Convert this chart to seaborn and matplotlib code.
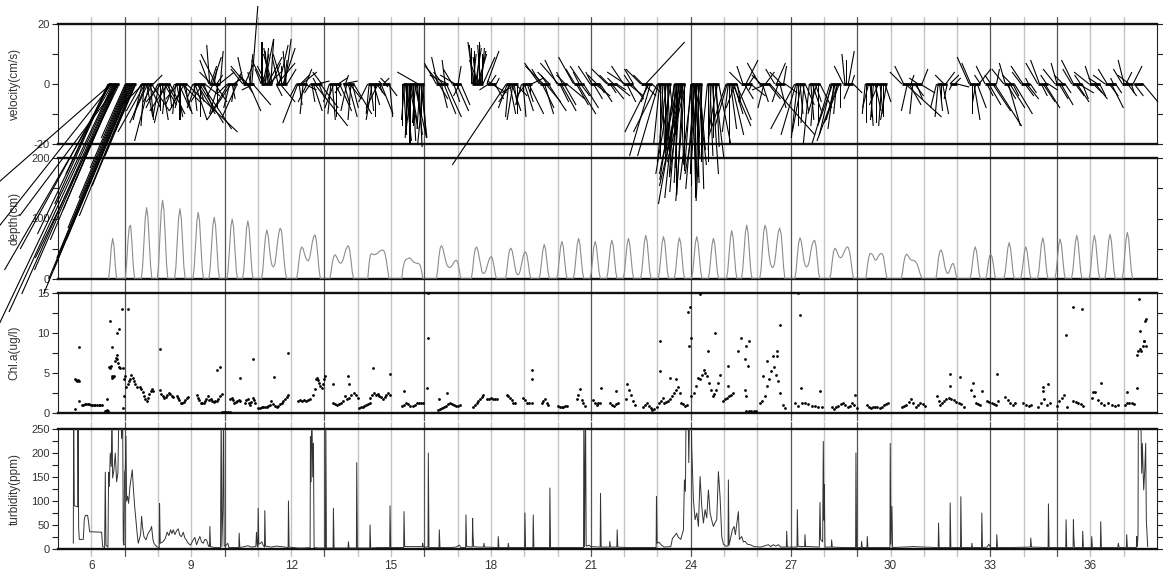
import numpy as np
import pandas as pd
import matplotlib
matplotlib.use("Agg")
import matplotlib.pyplot as plt
import seaborn as sns

# ---------------------------------------------------------------------------
# Current velocity bursts: (start day, end day, east component u, north component v) in cm/s
VEL_BURSTS = [
    (6.50, 6.84, [-14, -18, -24, -30, -40, -38, -36, -38, -35, -31, -27, -22, -18, -14, -33, -28],
                 [-30, -40, -50, -55, -35, -48, -62, -80, -76, -70, -62, -52, -42, -32, -44, -58]),
    (7.02, 7.34, [-8, -12, -16, -20, -24, -27, -29, -26, -22, -18, -14, -10, -7],
                 [-18, -28, -38, -48, -58, -65, -70, -62, -52, -44, -34, -24, -16]),
    (7.50, 7.86, [-5, -3, -7, -1, -9, -4, 2, -6, 4, -5, 1, 6, -3, 3],
                 [-9, -12, -7, -14, -16, -10, -11, -13, -8, -19, -12, -9, -6, 3]),
    (8.00, 8.36, [-4, -2, 0, -5, 2, -3, 4, -1, 3, -6, 1, 5],
                 [-8, -11, -9, -6, -12, -13, -7, -10, -5, -9, -8, -10]),
    (8.50, 8.86, [-3, -1, 2, -4, 4, 0, -2, 6, 3, -5, 1, 17],
                 [-7, -10, -11, -5, -9, -12, -8, -6, -10, -9, -7, -16]),
    (9.05, 9.41, [-2, 1, 4, -3, 6, 2, 8, 0, 10, -4, 3, 5],
                 [-5, -9, -12, -8, -10, -6, -13, -11, -15, -6, -8, -4]),
    (9.53, 9.87, [-3, -1, 2, -4, 3, -2, 1, 4, -5, 2, 0, -3, 5, 1],
                 [8, 13, 6, 4, 9, -4, 5, -6, 10, 3, -8, -10, 4, 11]),
    (10.08, 10.38, [-3, -6, -2, -8, 1, 3, -1, 2, -5],
                   [-3, -10, -8, -12, -5, 2, -6, 4, -11]),
    (10.55, 10.88, [-4, -2, 3, -5, 2, -3, 4, 1, -1, 2, 6, -4],
                   [5, 9, 7, 6, -3, 3, -9, 10, 4, 26, -7, -2]),
    (11.10, 11.44, [-2, 0, 2, -4, 3, 1, -3, 5, -1, 4, -2, 1, 3, -3],
                   [5, 14, 10, 8, 15, 12, 6, 9, 11, 4, 12, 15, 7, 10]),
    (11.55, 11.88, [2, 6, -2, 3, 5, 0, -3, 4, 1, 2, -1, 3],
                   [-4, 7, 9, 13, -6, 6, 10, 12, 8, 15, 11, 5]),
    (12.16, 12.48, [-2, -5, 1, 3, 5, -1, 4, 2, -3],
                   [-4, -13, -7, 3, 4, -10, -2, 5, -6]),
    (12.58, 12.92, [-2, 1, 3, 11, -1, 4, 2, 6, -3],
                   [-3, -6, -9, -14, 2, 1, -5, -8, 4]),
    (13.15, 13.50, [-2, -1, 1, -3, 2, 0, 3, 4, -2],
                   [-6, -10, -12, -8, -4, -11, 2, -9, -3]),
    (13.55, 13.88, [5, 2, 1, -2, 3, 4, -1, 2, 6],
                   [1, -7, 3, -9, -11, -5, -12, -8, -10]),
    (14.30, 14.70, [-3, -1, 1, -2, 2, 0, 3, -4, 1, 4],
                   [-6, -10, -9, -12, -7, -11, -4, -8, -3, -10]),
    (14.72, 14.96, [-1, 2, 1, -2, 3, 1],
                   [1, 2, -1, 2, -4, -11]),
    (15.35, 15.98, [0, 1, -1, 2, 0, 1, -1, 3, 0, 2, -2, 1, 0, 4, -1, 2, 1, -7, 1, -1, 2, 0, 1, -2],
                   [-14, -17, -12, -19, -16, -13, -18, -15, -20, -12, -16, -19, -14, -18, -13, -17, -10, 4,
                    -21, -15, -18, -11, -16, -20]),
    (16.36, 16.70, [-4, -2, 3, -5, 2, -3, 4, -1, 5, -6],
                   [7, 9, -5, 6, -8, 4, -10, 8, -11, 3]),
    (16.84, 17.10, [-3, 2, -5, 4, 1, -2, 3],
                   [5, -6, 3, -9, 6, -4, -7]),
    (17.42, 17.76, [0, -1, 1, -2, 0, 2, -1, 1, 3, -3, 0, 2, -1, 1, 0, 4],
                   [12, 13, 10, 14, 11, 12, 9, 13, 10, 8, 14, 11, 13, 12, 10, 9]),
    (17.88, 18.16, [4, -3, 2, 5, -2, 3, 1],
                   [11, -2, 3, -3, 1, -5, 2]),
    (18.46, 18.80, [-18, -3, -1, 2, -4, 3, -2, 1, 4, -5, 0],
                   [-27, -8, -11, -10, -6, -9, -12, -7, -4, -3, -10]),
    (18.92, 19.22, [-2, 1, 3, -3, 2, 5, 0, 4],
                   [-7, -11, -9, -4, -6, -10, -3, 2]),
    (19.46, 19.76, [-5, -3, 4, -6, 3, 5, -2, 6, -4],
                   [7, 5, -8, 6, -10, -6, 3, -9, 4]),
    (19.98, 20.28, [-4, -6, 3, 5, -2, 4, -3, 6],
                   [8, 7, -6, -9, 4, -7, 3, -5]),
    (20.48, 20.78, [-5, -3, 4, 6, -2, 3, -4, 5],
                   [9, 5, -7, -10, 4, -4, 6, -8]),
    (20.98, 21.28, [-4, -2, 3, 5, -3, 2, 4],
                   [6, 4, -5, -4, 3, -3, -6]),
    (21.48, 21.78, [-5, -3, 2, 4, -2, 5, 3],
                   [5, 3, -3, -5, 2, -4, -2]),
    (21.98, 22.28, [-4, -6, 3, 5, -2, 4, -3],
                   [6, 4, -6, -4, 3, -5, 5]),
    (22.50, 22.84, [-5, -3, 4, 13, -2, -8, -7, 3],
                   [5, 3, -4, 14, -6, -16, -24, -3]),
    (23.00, 23.40, [-8, -7, -2, 0, 1, -1, 2, 0, -3, 1, -1, 2, -5],
                   [-16, -24, -20, -25, -22, -18, -24, -21, -26, -19, -23, -17, -30]),
    (23.50, 23.84, [-3, -5, -2, 0, -4, -6, -1, -3, -7, -2, 1, -4, -5, -2, -8, 0, -3, -6],
                   [-25, -32, -30, -35, -38, -30, -28, -36, -40, -33, -27, -31, -22, -37, -34, -29, -39, -26]),
    (24.00, 24.34, [-2, 0, -4, 1, -1, 2, -3, 0, 1, -2, 3, 0, -1, 2, -5, 1, 0, -2],
                   [-28, -34, -32, -36, -30, -25, -35, -38, -33, -29, -27, -31, -37, -22, -30, -35, -26, -39]),
    (24.50, 24.84, [-2, 0, 1, -1, 2, 0, 3, 1, -3, 4],
                   [-20, -26, -24, -22, -30, -18, -25, -21, -16, -20]),
    (25.06, 25.40, [-6, -4, -2, 0, 2, 4, 6, 3, -3, 5, 1],
                   [-18, -14, -16, -20, -15, -17, -14, -10, -8, -12, -6]),
    (25.52, 25.84, [-4, -2, 3, 4, -3, 2, 5, -1],
                   [4, 6, -5, 8, -6, 3, -4, -2]),
    (26.06, 26.38, [-4, -3, 2, -2, 3, -5, 4, 15],
                   [7, 3, -6, -8, 4, -2, -5, -17]),
    (26.52, 26.84, [-3, 3, -2, 2, -4, 1, 4],
                   [5, 7, -6, -8, 4, 6, -3]),
    (27.12, 27.44, [-8, -5, -2, 0, 1, -3, 2, -1, 3],
                   [-15, -17, -18, -14, -10, -16, -9, -13, -7]),
    (27.56, 27.88, [-2, 1, 3, -1, 2, -3, 0, 4],
                   [-20, -12, -9, -14, -6, -10, -13, -8]),
    (28.18, 28.50, [-6, -4, -5, -2, -3, -1, -7, -5, 0],
                   [-20, -17, -14, -15, -12, -10, -19, -13, -8]),
    (28.58, 28.88, [-3, -1, 0, 2, -2, 1, 3],
                   [6, 10, 8, 11, -5, 3, -3]),
    (29.24, 29.88, [-1, 0, -2, 1, 0, -1, 2, 0, -3, 1, -1, 0, 2, -2],
                   [-10, -13, -8, -14, -11, -12, -9, -13, -7, -10, -14, -11, -6, -12]),
    (30.34, 30.94, [-4, -3, 12, -2, 4, 1, -1, 3, 2, -3, 5, 2],
                   [4, 6, -11, -9, -7, 3, -10, -4, -5, 2, -3, 5]),
    (31.38, 31.70, [-2, -1, 1, 0, 2, -3, 3, -1],
                   [-8, -11, -9, -6, -10, 3, 4, -5]),
    (31.78, 32.00, [3, -1, 2, 4],
                   [3, -2, 2, -1]),
    (32.36, 32.70, [-4, -3, 0, 2, -1, 3, 4, -2],
                   [9, 7, -10, -12, -6, -8, 5, 3]),
    (32.84, 33.18, [-3, 2, 4, -2, 6, 9, 1],
                   [6, -4, -7, 3, -9, -14, 5]),
    (33.40, 33.72, [-4, -2, 3, 4, 5, -3, 2, 6],
                   [5, 7, -5, -14, -8, 3, -4, -10]),
    (33.92, 34.20, [-3, -4, 3, 4, -1, 2],
                   [4, 6, -4, -5, 2, -3]),
    (34.42, 34.74, [-4, -3, 2, 4, 5, -2, 3],
                   [7, 8, -4, -6, -8, 3, -2]),
    (34.94, 35.24, [-4, -2, 3, 4, -3, 2],
                   [5, 7, -5, -7, 3, -3]),
    (35.44, 35.76, [-3, -4, 3, 4, 5, -2, 2],
                   [5, 8, -4, -6, -3, 3, -5]),
    (35.96, 36.28, [-5, -2, 3, 4, -3, 2],
                   [4, 6, -3, -5, 2, -4]),
    (36.44, 36.76, [-4, -3, 3, 4, -1, 2],
                   [3, 5, -4, -8, 2, -3]),
    (36.96, 37.28, [-3, -2, 2, 3, -4, 1, 3],
                   [5, 8, 4, -4, 3, -3, 6]),
    (37.32, 37.58, [3, 5],
                   [-4, -6]),
]

# Water depth over each submergence: (start day, depth in cm every 0.04 day)
DEPTH_STEP = 0.04
DEPTH_TIDES = [
    (6.52, [0, 22, 52, 67, 55, 22, 0]),
    (7.02, [0, 25, 62, 86, 89, 60, 22, 0]),
    (7.50, [0, 20, 60, 100, 118, 102, 62, 22, 0]),
    (7.98, [0, 22, 70, 112, 130, 114, 72, 25, 0]),
    (8.50, [0, 20, 62, 100, 116, 101, 63, 20, 0]),
    (9.05, [0, 18, 58, 95, 110, 96, 58, 18, 0]),
    (9.53, [0, 18, 55, 88, 102, 89, 55, 17, 0]),
    (10.07, [0, 16, 52, 86, 99, 87, 52, 16, 0]),
    (10.54, [0, 15, 50, 83, 96, 84, 50, 15, 0]),
    (11.11, [0, 14, 45, 70, 81, 72, 50, 32, 22, 20, 24, 40, 60, 76, 84, 80, 58, 30, 10, 0]),
    (12.16, [0, 12, 32, 48, 53, 50, 42, 35, 31, 30, 36, 48, 62, 70, 73, 62, 40, 15, 0]),
    (13.16, [0, 12, 28, 37, 40, 37, 32, 28, 26, 27, 32, 40, 48, 53, 55, 48, 30, 10, 0]),
    (14.30, [0, 25, 40, 42, 41, 40, 41, 42, 44, 46, 47, 48, 47, 42, 30, 15, 0]),
    (15.32, [0, 18, 28, 32, 33, 34, 35, 33, 30, 28, 27, 26, 26, 25, 22, 12, 0]),
    (16.36, [0, 15, 38, 52, 55, 50, 40, 30, 23, 20, 19, 20, 23, 27, 30, 31, 28, 18, 5, 0]),
    (17.41, [0, 15, 38, 50, 53, 47, 35, 22, 12, 9, 10, 14, 22, 30, 35, 37, 33, 22, 8, 0]),
    (18.44, [0, 15, 36, 48, 51, 46, 34, 20, 10, 7, 8, 14, 25, 36, 43, 45, 40, 26, 10, 0]),
    (19.44, [0, 9, 29, 48, 57, 49, 30, 10, 0]),
    (19.97, [0, 10, 32, 53, 62, 54, 33, 11, 0]),
    (20.47, [0, 11, 34, 57, 67, 58, 35, 12, 0]),
    (20.97, [0, 10, 31, 53, 62, 53, 32, 10, 0]),
    (21.47, [0, 11, 33, 55, 64, 56, 33, 11, 0]),
    (21.97, [0, 12, 35, 58, 67, 57, 34, 11, 0]),
    (22.49, [0, 12, 37, 62, 72, 62, 37, 12, 0]),
    (23.02, [0, 12, 36, 60, 70, 61, 36, 12, 0]),
    (23.50, [0, 11, 35, 58, 68, 59, 35, 11, 0]),
    (24.02, [0, 12, 36, 60, 70, 60, 36, 12, 0]),
    (24.52, [0, 11, 34, 57, 67, 58, 34, 11, 0]),
    (25.07, [0, 13, 41, 68, 80, 69, 41, 13, 0]),
    (25.52, [0, 15, 46, 76, 89, 77, 46, 15, 0]),
    (26.07, [0, 15, 48, 78, 89, 82, 62, 40, 26, 20, 19, 24, 40, 62, 78, 84, 76, 50, 18, 0]),
    (27.12, [0, 12, 38, 60, 68, 62, 46, 30, 22, 20, 22, 30, 44, 56, 62, 64, 55, 32, 10, 0]),
    (28.17, [0, 10, 30, 46, 51, 48, 42, 37, 35, 36, 40, 45, 50, 53, 52, 45, 30, 12, 0]),
    (29.26, [0, 20, 35, 42, 42, 40, 35, 31, 32, 36, 40, 42, 42, 38, 25, 10, 0]),
    (30.32, [0, 12, 28, 38, 41, 39, 35, 32, 31, 31, 30, 28, 24, 18, 10, 4, 0]),
    (31.36, [0, 15, 35, 46, 48, 42, 30, 18, 11, 9, 12, 18, 24, 26, 20, 8, 0]),
    (32.38, [0, 9, 27, 45, 53, 46, 28, 9, 0]),
    (32.85, [0, 8, 25, 38, 41, 36, 22, 6, 0]),
    (33.40, [0, 10, 31, 51, 60, 52, 31, 10, 0]),
    (33.90, [0, 9, 27, 45, 53, 46, 27, 9, 0]),
    (34.41, [0, 12, 35, 58, 68, 58, 35, 11, 0]),
    (34.93, [0, 11, 34, 56, 66, 57, 34, 11, 0]),
    (35.43, [0, 12, 37, 61, 72, 62, 37, 12, 0]),
    (35.96, [0, 12, 37, 61, 72, 61, 36, 12, 0]),
    (36.43, [0, 13, 38, 63, 74, 63, 38, 12, 0]),
    (36.95, [0, 13, 39, 65, 77, 66, 40, 13, 0]),
]

# Chlorophyll-a while submerged: (start day, end day, readings in ug/l)
CHL_RUNS = [
    (5.51, 5.62, [4.2, 4.1, 4.0, 4.1, 4.0]),
    (5.71, 6.31, [1.0, 1.05, 1.1, 1.15, 1.1, 1.1, 1.05, 1.0, 1.0, 1.0, 1.0, 1.0, 0.95, 1.0]),
    (6.40, 6.50, [0.2, 0.3, 0.4, 0.3]),
    (6.54, 6.68, [5.8, 5.6, 5.9, 4.6, 4.4, 4.5, 4.6]),
    (6.71, 6.86, [6.5, 6.9, 7.3, 6.8, 6.3, 5.8, 5.6]),
    (7.01, 7.36, [4.6, 3.3, 3.6, 4.0, 4.2, 4.8, 4.4, 4.0, 3.6, 3.3]),
    (7.46, 7.86, [3.3, 3.0, 2.6, 2.1, 1.7, 1.5, 1.9, 2.4, 2.8, 3.0, 2.7]),
    (8.06, 8.46, [2.9, 2.4, 2.1, 1.9, 2.0, 2.3, 2.5, 2.4, 2.1, 2.0]),
    (8.56, 8.91, [2.1, 1.9, 1.6, 1.3, 1.2, 1.4, 1.6, 1.9, 2.0]),
    (9.16, 9.54, [2.3, 1.9, 1.6, 1.3, 1.2, 1.3, 1.5, 1.8, 2.1, 1.6]),
    (9.58, 9.91, [1.7, 1.5, 1.4, 1.5, 1.5, 1.8, 2.1, 2.4]),
    (9.93, 10.15, [0.1, 0.1, 0.15, 0.1, 0.1]),
    (10.17, 10.47, [1.7, 1.9, 1.6, 1.3, 1.4, 1.5, 1.6, 1.5]),
    (10.62, 10.92, [1.3, 1.6, 1.7, 1.2, 1.0, 1.4, 1.9, 1.6, 1.3]),
    (11.02, 11.37, [0.6, 0.6, 0.7, 0.7, 0.8, 0.8, 0.9, 1.0]),
    (11.41, 11.92, [1.5, 1.1, 0.9, 0.8, 0.9, 1.1, 1.3, 1.5, 1.7, 2.0, 2.3]),
    (12.22, 12.57, [1.5, 1.6, 1.5, 1.6, 1.5, 1.6, 1.7]),
    (12.67, 13.02, [2.3, 3.0, 4.2, 4.4, 4.1, 3.8, 3.4, 3.1, 3.6, 4.2, 4.6]),
    (13.27, 13.57, [1.3, 1.1, 1.0, 1.1, 1.3, 1.5]),
    (13.62, 14.00, [2.1, 1.7, 1.9, 2.3, 2.5, 2.2, 1.9]),
    (14.04, 14.36, [0.6, 0.7, 0.8, 0.9, 1.0, 1.1, 1.2]),
    (14.38, 14.97, [1.9, 2.2, 2.5, 2.3, 2.4, 2.1, 2.0, 1.7, 2.0, 2.3, 2.5, 2.2]),
    (15.32, 15.97, [0.9, 1.0, 1.2, 1.1, 0.9, 0.9, 1.0, 1.2, 1.3, 1.2, 1.3]),
    (16.42, 17.07, [0.4, 0.5, 0.6, 0.8, 0.9, 1.1, 1.3, 1.1, 1.0, 0.9, 0.9, 1.0]),
    (17.47, 17.77, [0.8, 1.0, 1.2, 1.5, 1.7, 2.0, 2.3]),
    (17.87, 18.17, [1.7, 1.8, 1.9, 1.8, 1.7, 1.7]),
    (18.47, 18.72, [2.3, 2.1, 1.9, 1.6, 1.3, 1.2]),
    (18.97, 19.22, [1.9, 1.6, 1.3, 1.3, 1.3]),
    (19.52, 19.72, [1.3, 1.5, 1.7, 1.3, 1.0]),
    (20.02, 20.27, [0.9, 0.8, 0.8, 0.8, 0.9, 0.9]),
    (20.57, 20.82, [1.7, 2.3, 3.0, 1.6, 1.3, 0.9]),
    (21.07, 21.27, [1.6, 1.3, 1.0, 1.2, 1.3]),
    (21.57, 21.82, [1.2, 1.0, 0.9, 1.1, 1.3]),
    (22.07, 22.32, [1.7, 2.9, 2.3, 1.5, 1.0]),
    (22.57, 22.82, [0.8, 1.0, 1.2, 0.9, 0.6]),
    (22.84, 23.17, [0.4, 0.5, 0.8, 1.2, 1.5, 1.9]),
    (23.19, 23.67, [1.3, 1.4, 1.5, 1.8, 2.1, 2.5, 2.9, 3.3, 2.5]),
    (23.72, 23.90, [1.3, 1.1, 0.9, 1.0]),
    (24.02, 24.10, [2.1, 2.5]),
    (24.17, 24.87, [3.4, 4.4, 4.2, 4.8, 5.4, 5.0, 4.6, 3.8, 2.9, 2.1, 2.4, 2.9, 3.8, 4.8]),
    (24.97, 25.27, [1.5, 1.7, 1.9, 2.1, 2.3, 2.5]),
    (25.67, 25.97, [0.2, 0.2, 0.2, 0.2, 0.2]),
    (26.08, 26.83, [1.3, 1.5, 2.1, 3.4, 4.2, 5.2, 5.7, 4.8, 4.0, 2.5, 1.0, 0.6]),
    (27.13, 27.93, [1.3, 0.9, 1.2, 1.3, 1.1, 0.9, 0.9, 0.8, 0.8]),
    (28.23, 28.98, [0.8, 0.5, 0.7, 0.9, 1.1, 1.2, 1.0, 0.8, 0.9, 1.2, 1.0, 0.6]),
    (29.28, 29.93, [1.0, 0.8, 0.6, 0.7, 0.8, 0.7, 0.6, 0.8, 1.0, 1.1, 1.3]),
    (30.33, 31.03, [0.8, 0.9, 1.0, 1.4, 1.7, 1.2, 0.8, 1.0, 1.2, 1.1, 0.9]),
    (31.39, 31.55, [2.1, 1.5, 1.0, 1.3]),
    (31.60, 32.20, [1.5, 1.7, 1.9, 1.8, 1.6, 1.4, 1.3, 1.1, 0.8]),
    (32.40, 32.76, [2.9, 3.7, 2.1, 1.3, 1.1, 1.0, 2.7]),
    (32.90, 33.24, [1.5, 1.4, 1.3, 1.1, 1.0, 1.5]),
    (33.44, 33.74, [2.0, 1.6, 1.3, 1.0, 1.3]),
    (33.98, 34.23, [1.2, 1.0, 0.9, 1.0]),
    (34.44, 34.79, [0.8, 1.2, 1.7, 1.0, 1.2]),
    (34.99, 35.29, [0.9, 1.5, 1.9, 2.2, 0.8]),
    (35.49, 35.79, [1.5, 1.4, 1.3, 1.1, 0.9]),
    (36.04, 36.40, [1.9, 2.6, 1.6, 1.2, 1.0]),
    (36.54, 36.83, [1.2, 1.0, 0.9, 1.0]),
    (37.04, 37.30, [1.0, 1.2, 1.3, 1.2, 1.1]),
    (37.40, 37.62, [7.3, 7.7, 8.0, 7.8, 8.4, 9.0]),
]

# Isolated chlorophyll-a readings (day, ug/l)
CHL_SPOT_DAY = [5.64, 5.51, 5.63, 6.46, 6.56, 6.63, 6.78, 6.84, 6.91, 7.11, 6.94, 6.98, 6.96, 6.98,
                8.06, 9.78, 9.86, 10.47, 10.87, 11.49, 11.92, 13.27, 13.72, 13.74, 14.47, 14.97,
                15.39, 16.12, 16.12, 16.07, 16.45, 16.67, 19.23, 19.23, 21.29, 21.77, 22.09,
                23.07, 23.09, 23.37, 23.57, 23.92, 23.97, 23.95, 24.02, 24.27, 24.52, 24.72,
                25.12, 25.12, 25.42, 25.52, 25.62, 25.67, 25.75, 25.72, 25.62, 25.67,
                26.18, 26.30, 26.48, 26.58, 26.68, 26.60, 27.23, 27.28, 27.30, 27.88, 28.93,
                31.79, 31.79, 32.09, 33.19, 34.59, 34.59, 34.74, 35.27, 35.49, 35.74, 36.09,
                36.31, 37.09, 37.39, 37.47, 37.49, 37.64, 37.66, 37.67, 37.61]
CHL_SPOT_VAL = [8.3, 0.5, 1.5, 1.8, 11.5, 8.2, 10.0, 10.5, 13.0, 13.0, 5.6, 2.1, 0.6, 4.2,
                8.0, 5.4, 5.8, 4.4, 6.7, 4.5, 7.5, 3.6, 4.6, 3.6, 5.6, 4.9,
                2.7, 15.0, 9.4, 3.1, 1.7, 2.5, 5.4, 4.2, 3.1, 2.8, 3.6,
                5.2, 9.0, 4.4, 4.2, 12.6, 13.2, 8.4, 9.4, 14.9, 7.7, 10.0,
                5.9, 3.4, 7.7, 9.4, 6.7, 8.4, 9.0, 5.9, 2.9, 2.1,
                4.6, 6.5, 7.1, 7.7, 11.0, 7.1, 15.0, 12.2, 3.1, 2.8, 2.3,
                4.9, 3.4, 4.5, 4.9, 3.3, 2.7, 3.6, 9.8, 13.2, 13.0, 2.6,
                3.8, 2.6, 3.1, 14.2, 10.3, 11.5, 11.7, 8.4, 9.0]

# Turbidity record (day, ppm); readings above 250 run off the scale
TURB_DAY = [5.46, 5.47, 5.49, 5.59, 5.60, 5.62, 5.64, 5.76, 5.79, 5.82, 5.89, 5.92, 5.95, 6.31, 6.34, 6.40, 6.42, 6.44, 6.50,
            6.52, 6.54, 6.57, 6.60, 6.62, 6.64, 6.68, 6.72, 6.76, 6.80, 6.83, 6.88, 6.91, 6.94, 6.96, 6.98,
            7.00, 7.02, 7.04, 7.06, 7.09, 7.12, 7.16, 7.20, 7.23, 7.26, 7.30, 7.34, 7.38, 7.41,
            7.48, 7.51, 7.54, 7.58, 7.64, 7.71, 7.78, 7.81, 7.85, 7.88, 7.96, 8.04, 8.05, 8.07, 8.15, 8.22, 8.28,
            8.33, 8.38, 8.42, 8.46, 8.51, 8.56, 8.61, 8.66, 8.71, 8.76, 8.81, 8.86, 8.91, 8.98, 9.06, 9.11, 9.16,
            9.21, 9.26, 9.31, 9.36, 9.41, 9.46, 9.52, 9.55, 9.56, 9.58, 9.70, 9.88,
            9.90, 9.92, 9.95, 9.97, 9.99, 10.05, 10.10, 10.13, 10.30, 10.43, 10.44, 10.46, 10.60, 10.70, 10.80,
            10.94, 10.96, 10.98, 11.00, 11.01, 11.03, 11.08, 11.12, 11.16, 11.20, 11.21, 11.23, 11.40, 11.55,
            11.70, 11.91, 11.92, 11.94,
            12.20, 12.40, 12.57, 12.58, 12.60, 12.62, 12.65, 12.67, 12.69, 12.80, 13.03, 13.04, 13.06, 13.26,
            13.27, 13.29, 13.50, 13.71, 13.72, 13.74, 13.96, 13.97, 13.99, 14.20, 14.36, 14.37, 14.39, 14.60,
            14.96, 14.97, 14.99,
            15.20, 15.38, 15.39, 15.41, 15.60, 15.80, 15.94, 15.95, 15.97, 16.11, 16.12, 16.14, 16.44, 16.45,
            16.47, 16.80, 16.95, 17.05, 17.10, 17.24, 17.25, 17.27, 17.44, 17.45, 17.46, 17.48, 17.60, 17.78,
            17.79, 17.81, 18.21, 18.22, 18.24, 18.51, 18.52, 18.54, 19.01, 19.02, 19.04, 19.26, 19.27, 19.29,
            19.76, 19.77, 19.79, 20.40,
            20.78, 20.79, 20.81, 20.84, 20.86, 20.95, 21.00, 21.28, 21.29, 21.31, 21.56, 21.57, 21.59, 21.78,
            21.79, 21.81, 22.10, 22.50, 22.96, 22.97, 22.99, 23.05, 23.12, 23.20, 23.40, 23.45, 23.52, 23.57,
            23.62, 23.70, 23.78, 23.81, 23.84, 23.86, 23.92, 23.94, 23.97, 24.01, 24.03,
            24.08, 24.13, 24.18, 24.23, 24.28, 24.33, 24.38, 24.43, 24.48, 24.53, 24.58, 24.63, 24.68, 24.73,
            24.78, 24.83, 24.88, 24.93, 24.98, 25.05, 25.12, 25.13, 25.15, 25.25, 25.30, 25.34, 25.43, 25.46,
            25.53, 25.58, 25.63, 25.70, 25.78, 25.90, 26.10, 26.33, 26.40, 26.48, 26.55, 26.63, 26.70, 26.87,
            26.88, 26.90,
            27.19, 27.20, 27.22, 27.30, 27.42, 27.43, 27.45, 27.55, 27.86, 27.88, 27.90, 27.96, 27.98, 28.00,
            28.01, 28.03, 28.22, 28.23, 28.25, 28.60, 28.95, 28.96, 28.98, 29.12, 29.13, 29.15, 29.29, 29.30,
            29.32, 29.70, 29.98, 29.99, 30.01, 30.04, 30.06, 30.40, 30.70, 31.00,
            31.43, 31.44, 31.46, 31.78, 31.79, 31.81, 32.10, 32.11, 32.13, 32.43, 32.44, 32.46, 32.73, 32.74,
            32.76, 32.90, 32.95, 33.00, 33.18, 33.19, 33.21, 33.60, 34.10, 34.20, 34.21, 34.23, 34.73, 34.74,
            34.76, 35.26, 35.27, 35.29, 35.48, 35.49, 35.50, 35.52, 35.76, 35.77, 35.79, 36.03, 36.04, 36.06,
            36.30, 36.31, 36.33, 36.60, 36.82, 36.84, 36.86, 37.08, 37.09, 37.11, 37.38, 37.39, 37.41,
            37.43, 37.44, 37.50, 37.52, 37.54, 37.56, 37.60, 37.63, 37.66, 37.68, 37.70, 37.72]
TURB_VAL = [12, 300, 90, 88, 300, 44, 20, 20, 62, 70, 70, 55, 36, 35, 5, 3, 160, 8, 4,
            160, 130, 200, 172, 300, 148, 165, 200, 140, 160, 300, 300, 230, 300, 15, 8,
            160, 165, 235, 100, 110, 95, 130, 150, 165, 130, 90, 60, 30, 12,
            30, 68, 45, 26, 19, 33, 40, 47, 20, 12, 5, 3, 95, 12, 15, 22, 35,
            28, 40, 32, 40, 30, 38, 42, 28, 26, 35, 23, 18, 12, 8, 19, 24, 9,
            18, 26, 15, 12, 20, 19, 6, 5, 47, 5, 3, 3,
            300, 5, 85, 300, 6, 8, 12, 3, 3, 3, 33, 3, 5, 7, 4,
            5, 35, 8, 4, 85, 10, 12, 15, 8, 4, 80, 6, 4, 6,
            5, 3, 100, 4,
            2, 2, 3, 234, 140, 300, 150, 220, 3, 2, 2, 300, 2, 2,
            85, 2, 2, 2, 15, 2, 2, 180, 2, 2, 2, 50, 2, 3,
            3, 90, 3,
            3, 3, 78, 5, 5, 5, 5, 12, 4, 4, 200, 3, 3, 40,
            3, 3, 4, 8, 3, 3, 71, 5, 4, 64, 33, 5, 4, 4,
            12, 4, 3, 26, 3, 3, 12, 3, 3, 75, 3, 3, 71, 3,
            3, 127, 3, 3,
            3, 300, 5, 300, 6, 8, 5, 4, 116, 4, 4, 16, 4, 4,
            40, 4, 3, 3, 3, 109, 12, 14, 8, 4, 5, 22, 28, 33,
            25, 20, 40, 144, 120, 300, 300, 180, 300, 300, 210,
            102, 61, 75, 47, 151, 89, 54, 82, 65, 123, 75, 60, 47, 55,
            61, 161, 109, 26, 10, 6, 6, 144, 8, 40, 47, 30, 78, 20,
            26, 15, 16, 10, 9, 5, 4, 9, 5, 9, 6, 9, 4, 4,
            37, 4,
            4, 82, 6, 5, 5, 30, 5, 5, 4, 97, 20, 15, 224, 60,
            134, 4, 4, 19, 4, 3, 3, 200, 3, 3, 16, 3, 3, 26,
            3, 3, 3, 220, 10, 89, 3, 4, 5, 4,
            3, 54, 3, 3, 96, 3, 3, 109, 3, 3, 12, 3, 3, 75,
            3, 4, 10, 3, 3, 30, 3, 3, 4, 4, 23, 4, 3, 94,
            3, 3, 61, 3, 3, 61, 30, 3, 3, 37, 3, 3, 26, 3,
            3, 57, 3, 3, 3, 12, 3, 3, 30, 3, 3, 26, 5,
            30, 300, 300, 250, 158, 220, 123, 160, 220, 60, 33, 5]

PANEL_LABELS = ["velocity(cm/s)", "depth(cm)", "Chl.a(ug/l)", "turbidity(ppm)"]
DAY_TICKS = [6, 9, 12, 15, 18, 21, 24, 27, 30, 33, 36]
STRONG_GRID_DAYS = [7, 10, 13, 16, 21, 24, 27, 29, 33, 35]

# ---------------------------------------------------------------------------
vel = pd.DataFrame(
    [(t, u, v) for t0, t1, us, vs in VEL_BURSTS
     for t, u, v in zip(np.linspace(t0, t1, len(us)), us, vs)],
    columns=["day", "u", "v"])

depth = pd.DataFrame(
    [(t0 + i * DEPTH_STEP, d) for t0, vals in DEPTH_TIDES for i, d in enumerate(vals)],
    columns=["day", "depth"])

chl = pd.DataFrame(
    [(t, c) for t0, t1, vals in CHL_RUNS for t, c in zip(np.linspace(t0, t1, len(vals)), vals)]
    + list(zip(CHL_SPOT_DAY, CHL_SPOT_VAL)),
    columns=["day", "chl"])

turb = pd.DataFrame({"day": TURB_DAY, "turbidity": TURB_VAL})

# ---------------------------------------------------------------------------
sns.set_theme(style="ticks")
plt.rcParams["font.family"] = ["Liberation Sans", "DejaVu Sans"]
plt.rcParams["axes.unicode_minus"] = False

W_PX, H_PX = 1163, 575
fig = plt.figure(figsize=(W_PX / 100, H_PX / 100), dpi=100)
fig.patch.set_facecolor("white")


def panel(top, bottom):
    return fig.add_axes([58 / W_PX, 1 - bottom / H_PX, 1099 / W_PX, (bottom - top) / H_PX])


ax_v = panel(24, 144)
ax_d = panel(158, 279)
ax_c = panel(293, 413)
ax_t = panel(429, 549)
axes = [ax_v, ax_d, ax_c, ax_t]

# velocity sticks drawn from the zero line, isotropic in screen space
q = ax_v.quiver(vel["day"], np.zeros(len(vel)), vel["u"], vel["v"],
                angles="uv", scale_units="y", scale=1, units="dots", width=1.1,
                headwidth=0, headlength=0, headaxislength=0, pivot="tail",
                color="black", zorder=4)
q.set_clip_on(False)
for t0, t1, us, vs in VEL_BURSTS:
    ax_v.hlines(0, t0, t1, color="black", lw=2.0, zorder=4)

sns.lineplot(data=depth, x="day", y="depth", ax=ax_d, color="#8c8c8c", lw=0.8,
             estimator=None, sort=False, zorder=3)
sns.scatterplot(data=chl, x="day", y="chl", ax=ax_c, color="black", s=4,
                linewidth=0, zorder=3)
sns.lineplot(data=turb, x="day", y="turbidity", ax=ax_t, color="#333333", lw=0.7,
             estimator=None, sort=False, zorder=3)

limits = [(-20, 20), (0, 200), (0, 15), (0, 250)]
majors = [[-20, 0, 20], [0, 100, 200], [0, 5, 10, 15], [0, 50, 100, 150, 200, 250]]
minors = [[-10, 10], [50, 150], [2.5, 7.5, 12.5], list(range(25, 250, 50))]

for ax, lim, mj, mn, lab in zip(axes, limits, majors, minors, PANEL_LABELS):
    ax.set_xlim(5, 38)
    ax.set_ylim(*lim)
    ax.patch.set_alpha(0)
    ax.set_yticks(mj)
    ax.set_yticks(mn, minor=True)
    ax.tick_params(axis="y", which="both", direction="out", left=True, right=True,
                   labelleft=True, labelright=False, length=4, width=0.8,
                   color="#222222", labelsize=8, labelcolor="#333333", pad=2)
    ax.tick_params(axis="x", which="both", length=0, labelsize=8.5,
                   labelcolor="#333333", pad=8)
    ax.set_xticks(DAY_TICKS)
    ax.set_xlabel("")
    ax.set_ylabel(lab, fontsize=8.5, color="#333333")
    ax.yaxis.set_label_coords(-0.034, 0.5)
    for side in ("top", "bottom"):
        ax.spines[side].set_linewidth(1.7)
        ax.spines[side].set_color("#111111")
    for side in ("left", "right"):
        ax.spines[side].set_linewidth(0.8)
        ax.spines[side].set_color("#222222")
        ax.spines[side].set_visible(True)
    for day in range(6, 38):
        strong = day in STRONG_GRID_DAYS
        ax.axvline(day, ymin=-0.06, ymax=1.06, clip_on=False,
                   color="#555555" if strong else "#c4c4c4",
                   lw=0.9 if strong else 1.0, zorder=0.5)
    if ax is not ax_t:
        ax.tick_params(axis="x", labelbottom=False)

ax_v.set_zorder(5)

fig.savefig("out.png", dpi=100, facecolor="white")
